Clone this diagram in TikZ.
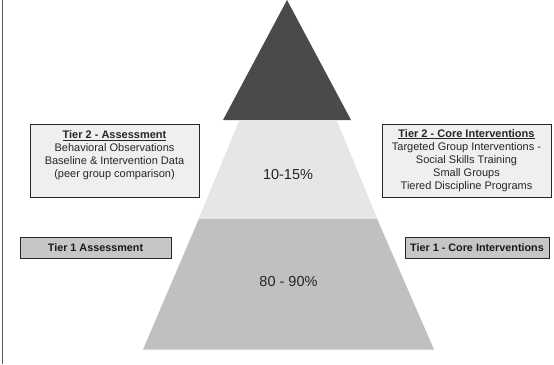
\documentclass[tikz,border=0pt]{standalone}
\usepackage{fontspec}
\setmainfont{Liberation Sans}
\definecolor{pdark}{HTML}{4A4A4A}
\definecolor{plight}{HTML}{E6E6E6}
\definecolor{pmid}{HTML}{C0C0C0}
\definecolor{tiertwofill}{HTML}{EFEFEF}
\definecolor{tieronefill}{HTML}{C6C6C6}
\definecolor{frameline}{HTML}{5A5A5A}
\begin{document}
\begin{tikzpicture}[x=1pt,y=-1pt,
  box/.style={draw=black!85, line width=1pt, align=center, inner sep=0pt,
    font=\fontsize{11}{13.1}\selectfont, text=black!85},
  tiertwo/.style={box, fill=tiertwofill, minimum width=169pt, minimum height=73pt},
  tierone/.style={box, fill=tieronefill, minimum height=21.5pt,
    font=\fontsize{10.8}{13}\selectfont\bfseries, text=black!90},
  pct/.style={font=\fontsize{14.5}{17}\selectfont, text=black!85}
]
\useasboundingbox (0,0) rectangle (554,364);
% left frame line
\draw[line width=1.2pt, frameline] (2.7,0) -- (2.7,364);
% pyramid
\fill[pdark] (287,0) -- (351,120) -- (223,120) -- cycle;
\fill[plight] (239,121) -- (337,121) -- (377,218) -- (199,218) -- cycle;
\fill[pmid] (199,218.6) -- (377,218.6) -- (434,349.5) -- (143,349.5) -- cycle;
% percentages
\node[pct] (ptwo) at (288,175) {10-15\%};
\node[pct] (pone) at (288.5,282) {80 - 90\%};
% boxes
\node[tiertwo] (tta) at (114.5,160.5)
  {\textbf{\underline{Tier 2 - Assessment}}\\Behavioral Observations\\Baseline \& Intervention Data\\(peer group comparison)\\\mbox{}};
\node[tiertwo] (ttc) at (466.5,160.5)
  {\textbf{\underline{Tier 2 - Core Interventions}}\\Targeted Group Interventions -\\Social Skills Training\\Small Groups\\Tiered Discipline Programs};
\node[tierone, minimum width=151pt] (toa) at (95.5,247.75) {Tier 1 Assessment};
\node[tierone, minimum width=144pt] (toc) at (477,247.75) {Tier 1 - Core Interventions};
\end{tikzpicture}
\end{document}
